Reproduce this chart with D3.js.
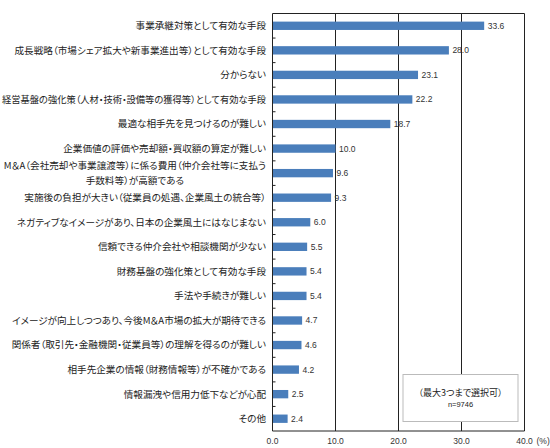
<!DOCTYPE html>
<html>
<head>
	<meta charset="utf-8">
	<title>M&A イメージ</title>
	<script src="https://cdn.jsdelivr.net/npm/d3@7"></script>
	<style>
		body { margin: 0; background: #fff; }
		svg { display: block; }
		.jp { font-feature-settings: "palt"; }
	</style>
</head>
<body>
	<div id="chart"></div>
	<script>

	// data

	const categories = [
		"事業承継対策として有効な手段",
		"成長戦略（市場シェア拡大や新事業進出等）として有効な手段",
		"分からない",
		"経営基盤の強化策（人材・技術・設備等の獲得等）として有効な手段",
		"最適な相手先を見つけるのが難しい",
		"企業価値の評価や売却額・買収額の算定が難しい",
		"M＆A（会社売却や事業譲渡等）に係る費用（仲介会社等に支払う\n手数料等）が高額である",
		"実施後の負担が大きい（従業員の処遇、企業風土の統合等）",
		"ネガティブなイメージがあり、日本の企業風土にはなじまない",
		"信頼できる仲介会社や相談機関が少ない",
		"財務基盤の強化策として有効な手段",
		"手法や手続きが難しい",
		"イメージが向上しつつあり、今後M＆A市場の拡大が期待できる",
		"関係者（取引先・金融機関・従業員等）の理解を得るのが難しい",
		"相手先企業の情報（財務情報等）が不確かである",
		"情報漏洩や信用力低下などが心配",
		"その他"
	];
	const values = [33.6, 28.0, 23.1, 22.2, 18.7, 10.0, 9.6, 9.3, 6.0, 5.5, 5.4, 5.4, 4.7, 4.6, 4.2, 2.5, 2.4];
	const xTicks = [0, 10, 20, 30, 40];
	const noteLines = ["（最大3つまで選択可）", "n=9746"];

	// layout

	const width = 550, height = 448;
	const margin = {top: 13.5, right: 25.5, bottom: 17, left: 272.5};
	const barColor = "#4a7ebb";
	const jpFont = "'Noto Sans CJK JP', 'Noto Sans', sans-serif";
	const labelRight = 266;

	const svg = d3.select("#chart").append("svg")
		.attr("width", width)
		.attr("height", height)
		.attr("viewBox", [0, 0, width, height]);

	const x = d3.scaleLinear()
		.domain([0, 40])
		.range([margin.left, width - margin.right]);

	const y = d3.scaleBand()
		.domain(d3.range(categories.length))
		.range([margin.top, height - margin.bottom])
		.paddingInner(0.66)
		.paddingOuter(0.33);

	// gridlines + frame
	svg.append("g")
		.selectAll("line")
		.data(xTicks.slice(1))
		.join("line")
		.attr("x1", d => x(d)).attr("x2", d => x(d))
		.attr("y1", margin.top).attr("y2", height - margin.bottom)
		.attr("stroke", "#222")
		.attr("stroke-width", 1);

	svg.append("line")
		.attr("x1", x(0)).attr("x2", x(40))
		.attr("y1", margin.top).attr("y2", margin.top)
		.attr("stroke", "#222");

	// bars
	svg.append("g")
		.selectAll("rect")
		.data(values)
		.join("rect")
		.attr("x", x(0))
		.attr("y", (d, i) => y(i))
		.attr("width", d => x(d) - x(0))
		.attr("height", y.bandwidth())
		.attr("fill", barColor);

	// value labels
	svg.append("g")
		.attr("font-family", "'Liberation Sans', sans-serif")
		.attr("font-size", 8.5)
		.attr("fill", "#333")
		.selectAll("text")
		.data(values)
		.join("text")
		.attr("x", d => x(d) + 3.5)
		.attr("y", (d, i) => y(i) + y.bandwidth() / 2)
		.attr("dy", "0.35em")
		.text(d => d.toFixed(1));

	// left axis with inward ticks at band boundaries
	const bounds = d3.range(1, categories.length).map(i => margin.top + i * (height - margin.top - margin.bottom) / categories.length);
	const left = svg.append("g");
	left.append("line")
		.attr("x1", x(0)).attr("x2", x(0))
		.attr("y1", margin.top).attr("y2", height - margin.bottom)
		.attr("stroke", "#222");
	left.selectAll("line.tick")
		.data(bounds)
		.join("line")
		.attr("class", "tick")
		.attr("x1", x(0)).attr("x2", x(0) + 3)
		.attr("y1", d => d).attr("y2", d => d)
		.attr("stroke", "#222");

	// category labels
	const labels = svg.append("g")
		.attr("class", "jp")
		.attr("font-family", jpFont)
		.attr("font-size", 9.6)
		.attr("fill", "#222")
		.selectAll("text")
		.data(categories)
		.join("text")
		.attr("y", (d, i) => y(i) + y.bandwidth() / 2);

	labels.each(function(d) {
		const parts = d.split("\n");
		const t = d3.select(this);
		const first = t.append("tspan")
			.attr("x", labelRight)
			.attr("text-anchor", "end")
			.attr("dy", parts.length > 1 ? "-0.38em" : "0.35em")
			.text(parts[0]);
		// keep the longest lines inside the left edge
		const w = first.node().getComputedTextLength();
		if (w > labelRight - 2) {
			first.attr("textLength", labelRight - 2).attr("lengthAdjust", "spacingAndGlyphs");
		}
		if (parts.length > 1) {
			const fw = Math.min(w, labelRight - 2);
			t.append("tspan")
				.attr("x", labelRight - fw / 2)
				.attr("text-anchor", "middle")
				.attr("dy", "1.46em")
				.text(parts[1]);
		}
	});

	// bottom axis
	svg.append("line")
		.attr("x1", x(0)).attr("x2", x(40))
		.attr("y1", height - margin.bottom).attr("y2", height - margin.bottom)
		.attr("stroke", "#222");

	svg.append("g")
		.attr("font-family", "'Liberation Sans', sans-serif")
		.attr("font-size", 8.5)
		.attr("fill", "#333")
		.attr("text-anchor", "middle")
		.selectAll("text")
		.data(xTicks)
		.join("text")
		.attr("x", d => x(d))
		.attr("y", height - margin.bottom + 13)
		.text(d => d.toFixed(1));

	svg.append("text")
		.attr("x", x(40) + 12)
		.attr("y", height - margin.bottom + 13)
		.attr("font-family", "'Liberation Sans', sans-serif")
		.attr("font-size", 8.5)
		.attr("fill", "#333")
		.text("(%)");

	// note box
	const box = svg.append("g");
	box.append("rect")
		.attr("x", 403).attr("y", 374.5)
		.attr("width", 115).attr("height", 47)
		.attr("fill", "#fff")
		.attr("stroke", "#bbb");
	box.append("text")
		.attr("class", "jp")
		.attr("x", 460.5).attr("y", 396)
		.attr("text-anchor", "middle")
		.attr("font-family", jpFont)
		.attr("font-size", 9)
		.attr("fill", "#222")
		.text(noteLines[0]);
	box.append("text")
		.attr("x", 460.5).attr("y", 407)
		.attr("text-anchor", "middle")
		.attr("font-family", "'Liberation Sans', sans-serif")
		.attr("font-size", 7.5)
		.attr("fill", "#222")
		.text(noteLines[1]);

	</script>
</body>
</html>
